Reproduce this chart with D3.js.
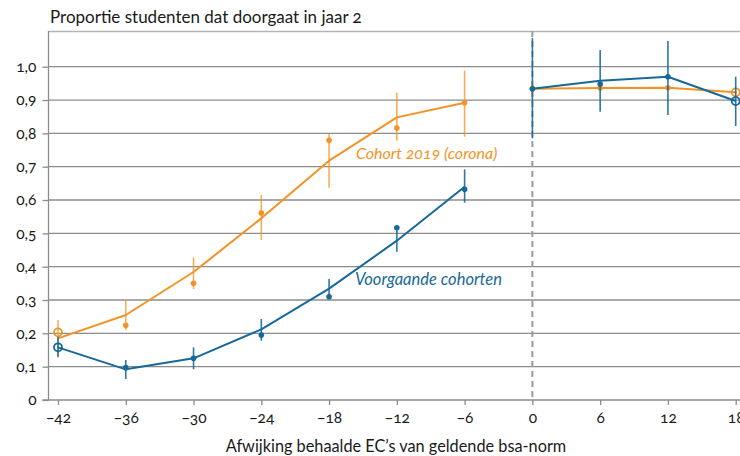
<!DOCTYPE html>
<html><head><meta charset="utf-8">
<script src="https://cdn.jsdelivr.net/npm/d3@7"></script>
<style>
html,body{margin:0;padding:0;background:#fff;}
text{font-family:Lato,"Noto Sans",sans-serif;fill:#1a1a1a;font-variant-numeric:oldstyle-nums;}
</style></head>
<body><svg id="c" width="740" height="456"></svg>
<script>
const xVals = [-42,-36,-30,-24,-18,-12,-6,0,6,12,18];
const xTicks = [-42,-36,-30,-24,-18,-12,-6,0,6,12,18];
const yTicks = [0,0.1,0.2,0.3,0.4,0.5,0.6,0.7,0.8,0.9,1.0];
// Cohort 2019 (corona)
const orangeFit = [0.185,0.255,0.384,0.545,0.718,0.848,0.892,0.934,0.936,0.937,0.923];
const orangeObs = [0.203,0.224,0.350,0.561,0.779,0.816,0.892,0.934,0.936,0.937,0.923];
const orangeLo  = [0.127,0.210,0.333,0.480,0.637,0.778,0.790,0.910,0.930,0.931,0.917];
const orangeHi  = [0.240,0.300,0.428,0.615,0.798,0.922,0.988,0.955,0.942,0.943,0.929];
// Voorgaande cohorten
const blueFit = [0.158,0.092,0.125,0.212,0.334,0.478,0.640,0.934,0.958,0.970,0.897];
const blueObs = [0.158,0.097,0.125,0.195,0.310,0.517,0.632,0.934,0.948,0.970,0.897];
const blueLo  = [0.130,0.063,0.092,0.178,0.305,0.445,0.592,0.785,0.865,0.855,0.822];
const blueHi  = [0.190,0.120,0.158,0.243,0.363,0.517,0.692,1.086,1.050,1.077,0.970];

const ORANGE = "#f39325", BLUE = "#17699a";
const svg = d3.select("#c");
const x = d3.scaleLinear().domain([-42,18]).range([58,735.7]);
const y = d3.scaleLinear().domain([0,1]).range([400,66.7]);
const pLeft = 48.5, pRight = 740, pTop = 31, pBottom = 400;

// frame top
svg.append("line").attr("x1",pLeft).attr("x2",pRight).attr("y1",pTop+0.5).attr("y2",pTop+0.5)
  .attr("stroke","#b4b4b4").attr("stroke-width",1.5);
// gridlines
svg.append("g").selectAll("line").data(yTicks.filter(d=>d>0)).join("line")
  .attr("x1",pLeft).attr("x2",pRight).attr("y1",d=>y(d)).attr("y2",d=>y(d))
  .attr("stroke","#8c8c8c").attr("stroke-width",1.3);

// y axis
const yAxis = d3.axisLeft(y).tickValues(yTicks).tickSize(6).tickPadding(6)
  .tickFormat(d=>d===0?"0":d3.format(".1f")(d).replace(".",","));
const gy = svg.append("g").attr("transform",`translate(${pLeft},0)`).call(yAxis);
gy.select(".domain").remove();
gy.selectAll(".tick line").attr("stroke","#8c8c8c").attr("stroke-width",1.3);
gy.selectAll("text").style("font-size","15.5px").attr("fill","#1a1a1a");
svg.append("line").attr("x1",pLeft).attr("x2",pLeft).attr("y1",pTop).attr("y2",pBottom)
  .attr("stroke","#8c8c8c").attr("stroke-width",1.3);

// x axis
const xAxis = d3.axisBottom(x).tickValues(xTicks).tickSize(5).tickPadding(7)
  .tickFormat(d=>d<0?"\u2212"+Math.abs(d):String(d));
const gx = svg.append("g").attr("transform",`translate(0,${pBottom})`).call(xAxis);
gx.select(".domain").remove();
gx.selectAll(".tick line").attr("stroke","#8c8c8c").attr("stroke-width",1.3);
gx.selectAll("text").style("font-size","15.5px").attr("fill","#1a1a1a");
svg.append("line").attr("x1",42.5).attr("x2",pRight).attr("y1",pBottom).attr("y2",pBottom)
  .attr("stroke","#8c8c8c").attr("stroke-width",1.3);

// dashed zero line
svg.append("line").attr("x1",x(0)).attr("x2",x(0)).attr("y1",pTop).attr("y2",pBottom)
  .attr("stroke","#9a9a9a").attr("stroke-width",2).attr("stroke-dasharray","6,4");

function series(fit, obs, lo, hi, color, barOpacity){
  const g = svg.append("g");
  g.selectAll("line.err").data(xVals.map((d,i)=>({x:d,lo:lo[i],hi:hi[i]}))).join("line")
    .attr("x1",d=>x(d.x)).attr("x2",d=>x(d.x)).attr("y1",d=>y(d.lo)).attr("y2",d=>y(d.hi))
    .attr("stroke",color).attr("stroke-width",1.6).attr("stroke-opacity",barOpacity);
  const pts = xVals.map((d,i)=>({x:d,v:fit[i]}));
  const line = d3.line().x(d=>x(d.x)).y(d=>y(d.v));
  [pts.filter(d=>d.x<0), pts.filter(d=>d.x>=0)].forEach(seg=>{
    g.append("path").attr("d",line(seg)).attr("fill","none")
      .attr("stroke",color).attr("stroke-width",2).attr("stroke-linejoin","round");
  });
  const o = xVals.map((d,i)=>({x:d,v:obs[i],end:(d===-42||d===18)}));
  g.selectAll("circle.f").data(o.filter(d=>!d.end)).join("circle")
    .attr("cx",d=>x(d.x)).attr("cy",d=>y(d.v)).attr("r",2.8).attr("fill",color);
  g.selectAll("circle.e").data(o.filter(d=>d.end)).join("circle")
    .attr("cx",d=>x(d.x)).attr("cy",d=>y(d.v)).attr("r",4).attr("fill","none")
    .attr("stroke",color).attr("stroke-width",1.8);
}
series(orangeFit, orangeObs, orangeLo, orangeHi, ORANGE, 0.75);
series(blueFit, blueObs, blueLo, blueHi, BLUE, 0.9);

svg.append("text").attr("x",356).attr("y",158.5).text("Cohort 2019 (corona)")
  .style("font-size","16px").style("font-style","italic").style("fill",ORANGE);
svg.append("text").attr("x",355).attr("y",285).text("Voorgaande cohorten")
  .style("font-size","16.5px").style("font-style","italic").style("fill",BLUE);

svg.append("text").attr("x",50).attr("y",22.5).text("Proportie studenten dat doorgaat in jaar 2")
  .style("font-size","17px");
svg.append("text").attr("x",396).attr("y",451.5).attr("text-anchor","middle")
  .text("Afwijking behaalde EC\u2019s van geldende bsa-norm").style("font-size","16.3px");
</script></body></html>
